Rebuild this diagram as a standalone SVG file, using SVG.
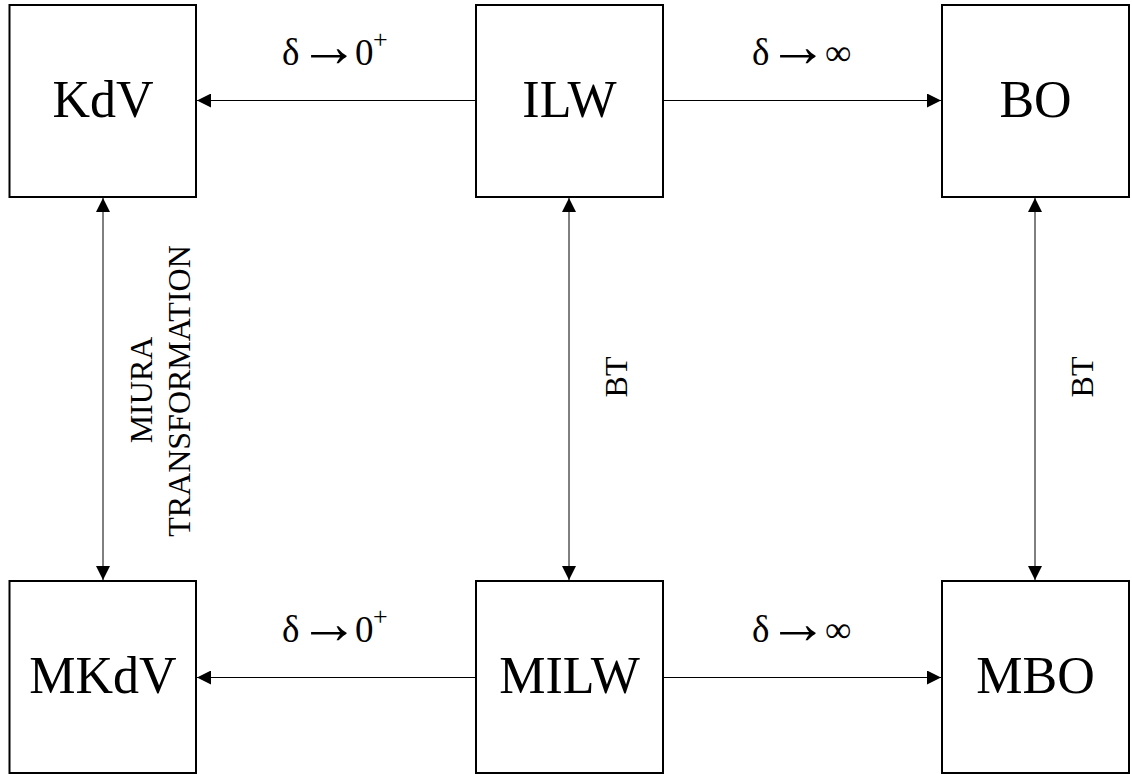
<svg xmlns="http://www.w3.org/2000/svg" width="1132" height="774" viewBox="0 0 1132 774">
<style>
.box{fill:#fff;stroke:#000;stroke-width:2}
.nt{font-family:"Liberation Serif","Times New Roman",serif;font-size:52px;text-anchor:middle;fill:#000}
.lb{font-family:"Liberation Serif","Times New Roman",serif;font-size:37px;fill:#000}
.ar{font-size:60px}
.sp{font-size:26px}
.vl{font-family:"Liberation Serif","Times New Roman",serif;font-size:32px;text-anchor:middle;fill:#000}
.ln{stroke:#000;stroke-width:1;fill:none}
</style>
<defs>
<marker id="ah" viewBox="0 0 14 14" refX="14" refY="7" markerWidth="14" markerHeight="14" markerUnits="userSpaceOnUse" orient="auto-start-reverse">
<path d="M0,0 L14,7 L0,14 Z" fill="#000"/>
</marker>
</defs>
<rect width="1132" height="774" fill="#fff"/>
<g id="connectors">
<line class="ln" x1="476" y1="100.5" x2="197" y2="100.5" marker-end="url(#ah)"/>
<line class="ln" x1="663" y1="100.5" x2="941" y2="100.5" marker-end="url(#ah)"/>
<line class="ln" x1="476" y1="677.5" x2="197" y2="677.5" marker-end="url(#ah)"/>
<line class="ln" x1="663" y1="677.5" x2="941" y2="677.5" marker-end="url(#ah)"/>
<line class="ln" x1="103" y1="198" x2="103" y2="580" marker-start="url(#ah)" marker-end="url(#ah)"/>
<line class="ln" x1="569" y1="198" x2="569" y2="580" marker-start="url(#ah)" marker-end="url(#ah)"/>
<line class="ln" x1="1035" y1="198" x2="1035" y2="580" marker-start="url(#ah)" marker-end="url(#ah)"/>
<text class="lb" x="282" y="65">δ<tspan class="ar" x="299" y="66">→</tspan><tspan x="355" y="65">0</tspan><tspan class="sp" x="373" y="48">+</tspan></text>
<text class="lb" x="752" y="65">δ<tspan class="ar" x="768" y="66">→</tspan><tspan x="825" y="65">∞</tspan></text>
<text class="lb" x="282" y="642">δ<tspan class="ar" x="299" y="643">→</tspan><tspan x="355" y="642">0</tspan><tspan class="sp" x="373" y="625">+</tspan></text>
<text class="lb" x="752" y="642">δ<tspan class="ar" x="768" y="643">→</tspan><tspan x="825" y="642">∞</tspan></text>
<text class="vl" transform="translate(152,390) rotate(-90)">MIURA</text>
<text class="vl" transform="translate(190,391) rotate(-90)">TRANSFORMATION</text>
<text class="vl" transform="translate(627,377) rotate(-90)">BT</text>
<text class="vl" transform="translate(1093,377) rotate(-90)">BT</text>
</g>
<g id="KdV"><rect class="box" x="9.5" y="5" width="186.5" height="192"/><text class="nt" x="103" y="117">KdV</text></g>
<g id="ILW"><rect class="box" x="476" y="5" width="187" height="192"/><text class="nt" x="569.5" y="117">ILW</text></g>
<g id="BO"><rect class="box" x="942" y="5" width="187" height="192"/><text class="nt" x="1035.5" y="117">BO</text></g>
<g id="MKdV"><rect class="box" x="9.5" y="581" width="186.5" height="192"/><text class="nt" x="103" y="693">MKdV</text></g>
<g id="MILW"><rect class="box" x="476" y="581" width="187" height="192"/><text class="nt" x="569.5" y="693">MILW</text></g>
<g id="MBO"><rect class="box" x="942" y="581" width="187" height="192"/><text class="nt" x="1035.5" y="693">MBO</text></g>
</svg>
